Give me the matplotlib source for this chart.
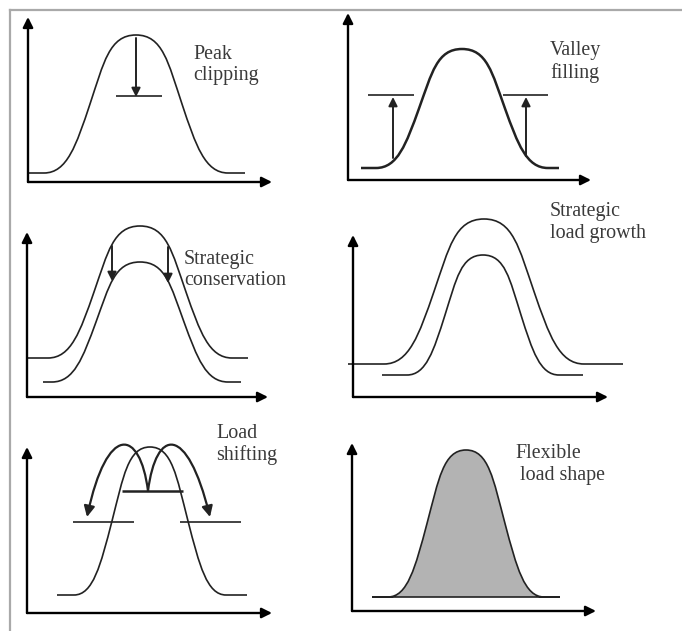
import matplotlib
matplotlib.use("Agg")
import matplotlib.pyplot as plt
from matplotlib.path import Path
from matplotlib.patches import PathPatch, FancyArrowPatch
from matplotlib.lines import Line2D

plt.rcParams["font.family"] = ["Liberation Serif", "DejaVu Serif"]

# Load-shape curves (units: 1 unit = 10 px of the original drawing)
#  panel, start, end, base load, time of peak, peak load, half width
curve_panel = [0, 1, 2, 2, 3, 3, 4, 5]
curve_start = [0.0, 1.3, 0.1, 1.6, -0.5, 2.9, 3.0, 2.0]
curve_end = [21.7, 21.1, 22.1, 21.4, 27.0, 23.0, 22.0, 20.8]
curve_base = [0.9, 1.2, 3.9, 1.5, 3.3, 2.2, 1.8, 1.4]
curve_centre = [10.8, 11.4, 11.3, 11.3, 13.1, 13.0, 12.3, 11.4]
curve_peak = [14.7, 13.1, 17.1, 13.5, 17.8, 14.2, 16.6, 16.1]
curve_width = [4.6, 4.3, 4.6, 4.4, 5.0, 3.8, 3.8, 3.9]

# Straight arrows: panel, x, from, to
arrow_panel = [0, 1, 1, 2, 2, 3, 3]
arrow_x = [10.8, 4.5, 17.8, 8.5, 14.1, 10.7, 15.4]
arrow_from = [14.4, 2.2, 2.4, 15.1, 15.0, 13.6, 13.6]
arrow_to = [8.5, 8.3, 8.3, 11.6, 11.4, 17.1, 17.1]

# Target levels: panel, x0, x1, level
level_panel = [0, 1, 1, 4, 4, 4]
level_x0 = [8.8, 2.0, 15.5, 9.5, 4.6, 15.3]
level_x1 = [13.4, 6.6, 20.0, 15.6, 10.7, 21.4]
level_y = [8.6, 8.5, 8.5, 12.2, 9.1, 9.1]

# Load shifting arcs (panel 5): start, two control points, end
shift_start = (12.1, 12.2)
shift_ctrl = [[(11.3, 18.5), (8.0, 19.0)], [(12.9, 18.5), (16.0, 19.0)]]
shift_end = [(6.0, 9.6), (18.3, 9.6)]

labels = ["Peak\nclipping", "Valley\nfilling", "Strategic\nconservation",
          "Strategic\nload growth", "Load\nshifting", "Flexible\n load shape"]
label_x = [16.5, 20.2, 15.7, 19.7, 18.9, 16.3]
label_y = [11.7, 11.8, 12.7, 17.45, 16.85, 14.65]

W, H = 682, 631
# axis boxes in px: origin x, origin y, x-arrow tip, y-arrow tip
boxes = [(28, 182, 272, 17), (348, 180, 591, 13), (27, 397, 268, 232),
         (353, 397, 608, 235), (27, 613, 272, 447), (352, 611, 596, 443)]

ink = "#222222"


def bump(xs, xe, base, xc, peak, w, close=False):
    h = peak - base
    mid = base + h / 2
    verts = [(xs, base), (xc - 2 * w, base),
             (xc - 1.5 * w, base), (xc - 1.3 * w, mid - 0.3 * h), (xc - w, mid),
             (xc - 0.7 * w, mid + 0.3 * h), (xc - 0.58 * w, peak), (xc, peak),
             (xc + 0.58 * w, peak), (xc + 0.7 * w, mid + 0.3 * h), (xc + w, mid),
             (xc + 1.3 * w, mid - 0.3 * h), (xc + 1.5 * w, base), (xc + 2 * w, base),
             (xe, base)]
    codes = [Path.MOVETO, Path.LINETO] + [Path.CURVE4] * 12 + [Path.LINETO]
    if close:
        verts.append((xs, base))
        codes.append(Path.CLOSEPOLY)
    return Path(verts, codes)


fig = plt.figure(figsize=(W / 100, H / 100), dpi=100)

# page frame
fig.add_artist(Line2D([10 / W, 1], [1 - 10 / H, 1 - 10 / H], color="#a9a9a9", lw=1.6))
fig.add_artist(Line2D([10 / W, 10 / W], [1 - 10 / H, 0], color="#a9a9a9", lw=1.6))

axes = []
for ox, oy, tx, ty in boxes:
    ax = fig.add_axes([ox / W, 1 - oy / H, (tx - ox) / W, (oy - ty) / H])
    ax.set_xlim(0, (tx - ox) / 10)
    ax.set_ylim(0, (oy - ty) / 10)
    ax.axis("off")
    for end in [(1, 0), (0, 1)]:
        ax.annotate("", xy=end, xytext=(0, 0), xycoords="axes fraction",
                    arrowprops=dict(arrowstyle="-|>", color="black", lw=1.7,
                                    mutation_scale=15, shrinkA=0, shrinkB=0))
    axes.append(ax)

for i in range(len(curve_panel)):
    p = curve_panel[i]
    filled = p == 5
    path = bump(curve_start[i], curve_end[i], curve_base[i], curve_centre[i],
                curve_peak[i], curve_width[i], close=filled)
    axes[p].add_patch(PathPatch(path, facecolor="#b3b3b3" if filled else "none",
                                edgecolor=ink, lw=1.8 if p == 1 else 1.2,
                                clip_on=False))

for i in range(len(arrow_panel)):
    axes[arrow_panel[i]].annotate(
        "", xy=(arrow_x[i], arrow_to[i]), xytext=(arrow_x[i], arrow_from[i]),
        arrowprops=dict(arrowstyle="-|>", color=ink, lw=1.4,
                        mutation_scale=13, shrinkA=0, shrinkB=0))

for i in range(len(level_panel)):
    axes[level_panel[i]].plot([level_x0[i], level_x1[i]], [level_y[i], level_y[i]],
                              color=ink, lw=1.8 if i == 3 else 1.2,
                              solid_capstyle="butt", clip_on=False)

for ctrl, end in zip(shift_ctrl, shift_end):
    arc = Path([shift_start, ctrl[0], ctrl[1], end],
               [Path.MOVETO, Path.CURVE4, Path.CURVE4, Path.CURVE4])
    axes[4].add_patch(FancyArrowPatch(path=arc, arrowstyle="-|>", color=ink,
                                      lw=1.6, mutation_scale=16, clip_on=False))

for i, ax in enumerate(axes):
    ax.text(label_x[i], label_y[i], labels[i], ha="left", va="center",
            fontsize=14.4, color="#3a3a3a", linespacing=1.2, clip_on=False)

fig.savefig("out.png", dpi=100)
